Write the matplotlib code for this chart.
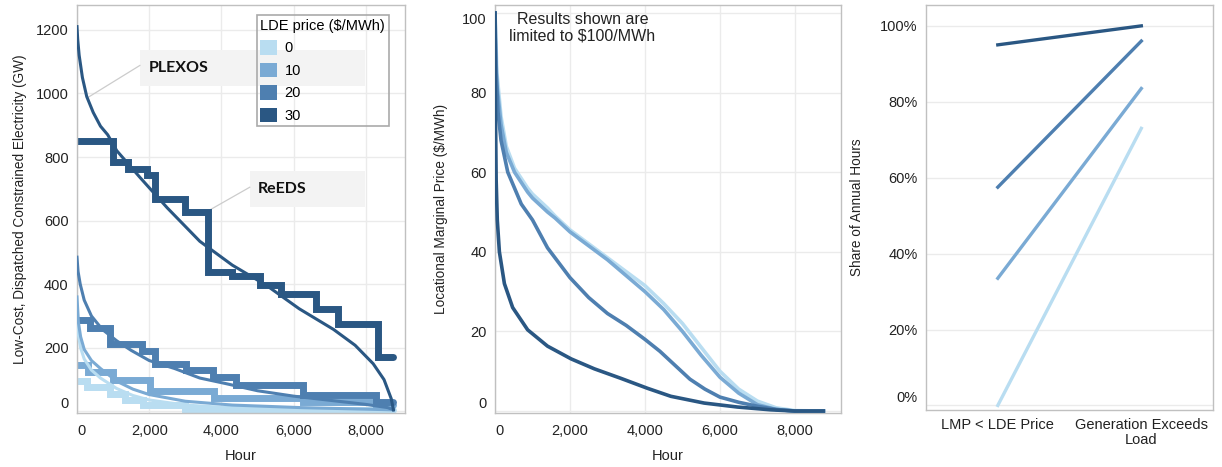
import matplotlib.pyplot as plt
from matplotlib.patches import Patch, Rectangle
from matplotlib.ticker import FuncFormatter

plt.rcParams['font.family'] = ['Liberation Sans', 'DejaVu Sans']

prices = [0, 10, 20, 30]
colors = ['#b9ddf1', '#7aaad4', '#4e7fb0', '#2a5783']

# panel 1: PLEXOS duration curves (hour, GW)
plexos_hours = {
    0: [0, 40, 100, 200, 400, 650, 1100, 1550, 2000, 3000, 4300, 6200, 8760],
    10: [0, 40, 100, 200, 400, 650, 1100, 1550, 2000, 3000, 4300, 6200, 8760],
    20: [0, 30, 90, 200, 400, 700, 1100, 1500, 2000, 2700, 3400, 4100, 5000, 6000, 7000, 8000, 8600, 8760],
    30: [0, 20, 60, 150, 270, 450, 650, 850, 1100, 1750, 2500, 3400, 4300, 5250, 6150, 7100, 7700, 8200, 8500, 8700, 8760],
}
plexos_gw = {
    0: [300, 240, 200, 165, 130, 105, 72, 50, 36, 20, 11, 6, 2],
    10: [360, 280, 235, 195, 160, 135, 95, 70, 53, 32, 20, 12, 5],
    20: [485, 440, 400, 350, 300, 258, 222, 192, 160, 135, 105, 88, 65, 48, 35, 22, 12, 5],
    30: [1210, 1170, 1120, 1050, 990, 940, 897, 870, 820, 735, 640, 535, 460, 396, 323, 258, 208, 150, 100, 40, 5],
}

# panel 1: ReEDS step blocks (start hour, GW)
reeds_hours = {
    0: [0, 270, 910, 1330, 1830, 3000, 5000],
    10: [0, 310, 1000, 2020, 3800, 6260, 8290],
    20: [0, 360, 910, 1790, 2150, 3030, 3770, 4410, 6260, 8290],
    30: [0, 1000, 1420, 1925, 2150, 2980, 3630, 4300, 5060, 5660, 6630, 7230, 8330],
}
reeds_gw = {
    0: [97, 78, 56, 35, 19, 8, 4],
    10: [145, 124, 98, 65, 43, 30, 20],
    20: [286, 262, 213, 190, 150, 129, 109, 82, 51, 30],
    30: [850, 783, 762, 745, 668, 626, 438, 425, 396, 370, 323, 276, 171],
}

# panel 2: LMP duration curves (hour, $/MWh)
lmp_hours = {
    0: [0, 50, 160, 300, 520, 870, 1000, 1400, 1600, 2000, 2500, 3000, 3500, 4000, 4500, 5000, 5500, 6000, 6500, 7000, 7500, 8000, 8760],
    10: [0, 50, 160, 300, 520, 870, 1000, 1400, 1600, 2000, 2500, 3000, 3500, 4000, 4500, 5000, 5500, 6000, 6500, 7000, 7500, 8000, 8760],
    20: [0, 30, 80, 160, 340, 700, 1000, 1400, 2000, 2500, 3000, 3500, 4000, 4400, 4800, 5200, 5600, 6000, 6500, 7000, 7500, 8000, 8760],
    30: [0, 12, 30, 60, 116, 250, 470, 870, 1400, 2030, 2650, 3360, 4070, 4690, 5580, 6470, 7360, 8000, 8760],
}
lmp_price = {
    0: [100, 85, 74, 66.5, 61, 56, 54.5, 51, 49, 45.5, 42, 38.5, 35, 31.5, 27, 22, 16, 10, 5.5, 2.5, 0.8, 0.1, 0],
    10: [95, 82, 72, 65, 60, 55, 53.5, 50, 48.5, 45, 41.5, 38, 34, 30, 25.5, 20, 14, 8.5, 4.5, 1.6, 0.4, 0, 0],
    20: [100, 85, 75, 68, 60, 52, 48, 41, 33.5, 28.5, 24.5, 21.5, 18, 15, 11.5, 8, 5.5, 3.5, 2.2, 1.2, 0.4, 0, 0],
    30: [100, 75, 58, 48, 40, 32, 26, 20.4, 16.3, 13.1, 10.6, 8.2, 5.7, 3.7, 2.0, 1.0, 0.3, 0, 0],
}

# panel 3: share of annual hours
categories = ['LMP < LDE Price', 'Generation Exceeds\nLoad']
share = {
    0: [0.0, 0.73],
    10: [0.335, 0.835],
    20: [0.575, 0.96],
    30: [0.95, 1.0],
}

grid_c = '#ebebeb'
spine_c = '#c0c0c0'
text_c = '#222222'

fig = plt.figure(figsize=(12.22, 4.67), dpi=100)
ax1 = fig.add_axes([0.0630, 0.1156, 0.2684, 0.8737])
ax2 = fig.add_axes([0.4051, 0.1156, 0.2831, 0.8737])
ax3 = fig.add_axes([0.7578, 0.1221, 0.2349, 0.8672])


def style(ax):
    for s in ax.spines.values():
        s.set_color(spine_c)
        s.set_linewidth(1)
    ax.tick_params(length=0, labelsize=10.5, colors=text_c)
    ax.set_axisbelow(True)


comma = FuncFormatter(lambda v, p: f'{int(v):,}')

# ---- panel 1
style(ax1)
ax1.grid(True, color=grid_c, linewidth=1)
for p, c in zip(prices, colors):
    ax1.plot(plexos_hours[p], plexos_gw[p], color=c, linewidth=2.2, zorder=3)
for p, c in zip(prices, colors):
    h = reeds_hours[p] + [8760]
    g = reeds_gw[p] + [reeds_gw[p][-1]]
    ax1.plot(h, g, drawstyle='steps-post', color=c, linewidth=5, zorder=2,
             solid_joinstyle='miter', solid_capstyle='round')
ax1.set_xlim(0, 9080)
ax1.set_ylim(-5, 1278)
ax1.set_xticks(range(0, 8001, 2000))
ax1.xaxis.set_major_formatter(comma)
ax1.set_yticks(range(0, 1201, 200))
ax1.set_xlabel('Hour', fontsize=10.5, color=text_c, labelpad=8)
ax1.set_ylabel('Low-Cost, Dispatched Constrained Electricity (GW)', fontsize=9.8, color=text_c, labelpad=6)

ax1.add_patch(Rectangle((1742, 1022), 7962 - 1742, 116, facecolor='#f3f3f3', edgecolor='none', zorder=1))
ax1.add_patch(Rectangle((4783, 643), 7962 - 4783, 112, facecolor='#f3f3f3', edgecolor='none', zorder=1))
ax1.plot([285, 1742], [986, 1088], color='#cccccc', linewidth=0.9, zorder=1)
ax1.plot([3622, 4783], [630, 705], color='#cccccc', linewidth=0.9, zorder=1)
ax1.text(2000, 1080, 'PLEXOS', fontsize=11.5, fontweight='bold', family='Lato', va='center', color='#111111', zorder=4)
ax1.text(5000, 699, 'ReEDS', fontsize=11.5, fontweight='bold', family='Lato', va='center', color='#111111', zorder=4)

handles = [Patch(facecolor=c, edgecolor='none', label=str(p)) for p, c in zip(prices, colors)]
leg = ax1.legend(handles=handles, title='LDE price ($/MWh)', loc='upper left',
                 bbox_to_anchor=(0.548, 0.975), fontsize=10.5, title_fontsize=10.5,
                 handlelength=1.15, handleheight=1.15, labelspacing=0.5, handletextpad=0.5,
                 borderpad=0.25, borderaxespad=0, alignment='left', fancybox=False,
                 edgecolor='#aaaaaa')
leg.get_frame().set_facecolor('none')
leg.get_frame().set_alpha(None)
leg.get_frame().set_linewidth(1.2)
leg.set_zorder(5)

# ---- panel 2
style(ax2)
ax2.grid(True, color=grid_c, linewidth=1)
for p, c in zip(prices, colors):
    ax2.plot(lmp_hours[p], lmp_price[p], color=c, linewidth=2.6, zorder=3)
ax2.set_xlim(0, 9230)
ax2.set_ylim(-0.5, 102)
ax2.set_xticks(range(0, 8001, 2000))
ax2.xaxis.set_major_formatter(comma)
ax2.set_yticks(range(0, 101, 20))
ax2.set_xlabel('Hour', fontsize=10.5, color=text_c, labelpad=8)
ax2.set_ylabel('Locational Marginal Price ($/MWh)', fontsize=9.8, color=text_c, labelpad=10)
ax2.text(2330, 96.3, 'Results shown are\nlimited to $100/MWh', ha='center', va='center',
         fontsize=11.5, color=text_c, linespacing=1.1)

# ---- panel 3
style(ax3)
ax3.grid(True, axis='y', color=grid_c, linewidth=1)
for p, c in zip(prices, colors):
    ax3.plot(range(len(categories)), share[p], color=c, linewidth=2.4, zorder=3)
ax3.set_xlim(-0.5, 1.5)
ax3.set_ylim(-0.012, 1.055)
ax3.set_xticks(range(len(categories)))
ax3.set_xticklabels(categories, linespacing=1.1)
ax3.set_yticks([0, 0.2, 0.4, 0.6, 0.8, 1.0])
ax3.yaxis.set_major_formatter(FuncFormatter(lambda v, p: f'{v:.0%}'))
ax3.set_ylabel('Share of Annual Hours', fontsize=9.8, color=text_c, labelpad=12)

# Tableau-like edge labels
for ax in (ax1, ax2):
    ax.get_xticklabels()[0].set_ha('left')
    ax.tick_params(axis='x', pad=8)
for ax in (ax1, ax2, ax3):
    ax.get_yticklabels()[0].set_va('bottom')
    ax.tick_params(axis='y', pad=6)
ax2.get_yticklabels()[-1].set_va('top')
ax3.tick_params(axis='x', pad=6)

fig.savefig('out.png', dpi=100)
